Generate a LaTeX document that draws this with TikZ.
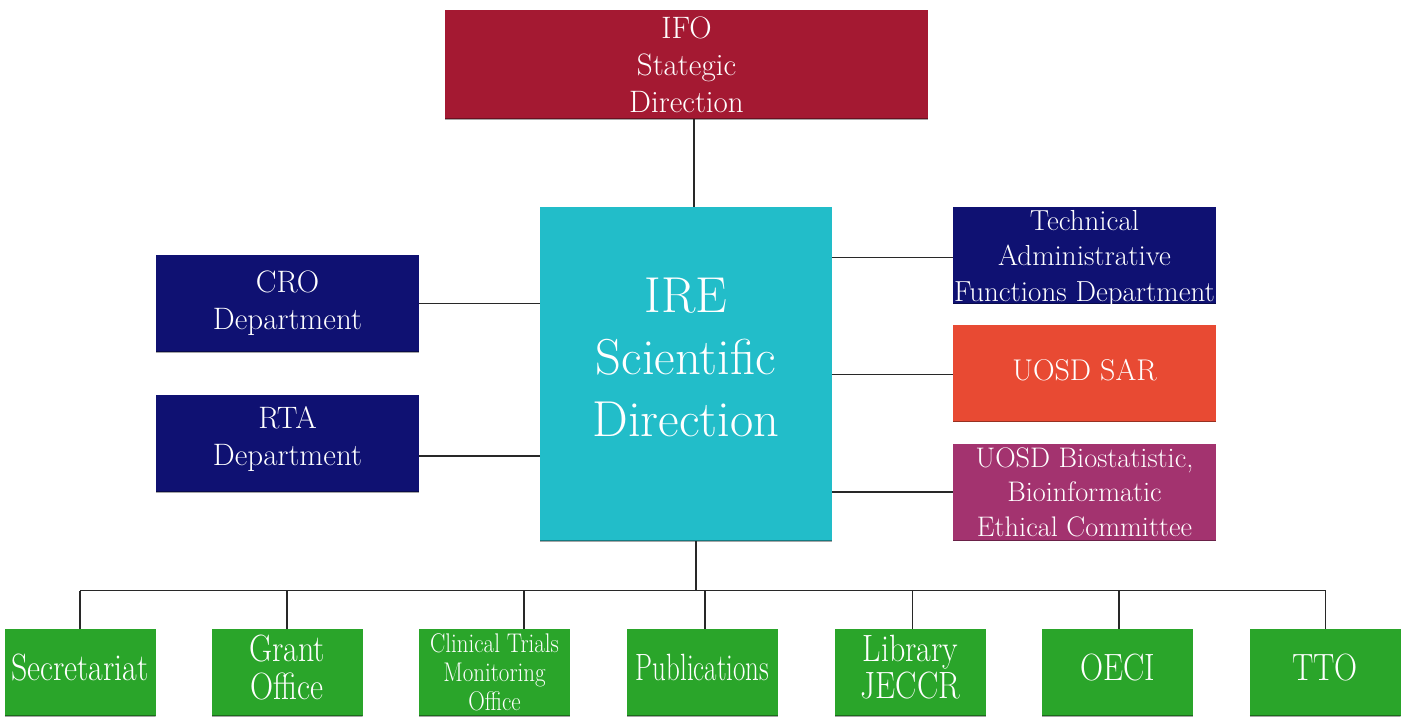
\documentclass[tikz,border=0pt]{standalone}
\usepackage{graphicx}
\definecolor{ifored}{RGB}{164,25,50}
\definecolor{irecyan}{RGB}{34,189,201}
\definecolor{navyb}{RGB}{15,17,114}
\definecolor{sarred}{RGB}{232,74,51}
\definecolor{biomag}{RGB}{163,51,111}
\definecolor{greenb}{RGB}{42,165,42}
\definecolor{linec}{RGB}{40,40,40}
\newcommand{\cond}[2][0.78]{\scalebox{#1}[1]{\begin{tabular}{@{}c@{}}#2\end{tabular}}}
\tikzset{
  boxbase/.style={rectangle, inner sep=0pt, text=white, align=center, draw=none,
    path picture={\draw[black, opacity=0.35, line width=2] (path picture bounding box.south west) -- (path picture bounding box.south east);}},
  txt/.style={inner sep=0pt, text=white, align=center},
  topbox/.style={boxbase, fill=ifored, minimum width=483, minimum height=109, font=\fontsize{31}{37}\selectfont},
  irebox/.style={boxbase, fill=irecyan, minimum width=292, minimum height=334},
  sidebox/.style={boxbase, minimum width=263, minimum height=97, font=\fontsize{31}{37}\selectfont},
  gbox/.style={boxbase, fill=greenb, minimum width=151, minimum height=87, font=\fontsize{38}{37}\selectfont},
  conn/.style={draw=linec, line width=1.3},
}
\begin{document}
\begin{tikzpicture}[x=1pt,y=-1pt]
\useasboundingbox (0,0) rectangle (1403,718);
% main boxes
\node[topbox] (ifo) at (686.5,64.5) {IFO\\Stategic\\Direction};
\node[irebox] (ire) at (686,374) {};
\node[txt, font=\fontsize{50.5}{62}\selectfont] (iret) at (686,357) {IRE\\Scientific\\Direction};
\node[sidebox, fill=navyb] (cro) at (287.5,303.5) {CRO\\Department};
\node[sidebox, fill=navyb] (rta) at (287.5,443.5) {};
\node[txt, font=\fontsize{31}{37}\selectfont] (rtat) at (287.5,439) {RTA\\Department};
\node[sidebox, fill=navyb] (tech) at (1084.5,255) {};
\node[txt, font=\fontsize{29}{35.5}\selectfont] (techt) at (1084.5,258.5) {Technical\\Administrative\\Functions Department};
\node[sidebox, fill=sarred] (sar) at (1084.5,373) {};
\node[txt, font=\fontsize{30}{36}\selectfont] (sart) at (1084.5,370) {UOSD SAR};
\node[sidebox, fill=biomag, font=\fontsize{28.3}{34.5}\selectfont] (bio) at (1084.5,492) {UOSD Biostatistic,\\Bioinformatic\\Ethical Committee};
% bottom boxes
\node[gbox] (sec) at (80,672.5) {\cond[0.84]{Secretariat}};
\node[gbox] (grant) at (287,672.5) {\cond[0.84]{Grant\\Office}};
\node[gbox] (ctm) at (494.5,672.5) {};
\node[txt, font=\fontsize{27}{29}\selectfont] (ctmt) at (494.5,676) {\cond[0.85]{Clinical Trials\\Monitoring\\Office}};
\node[gbox] (pub) at (702.5,672.5) {\cond[0.71]{Publications}};
\node[gbox] (lib) at (910.5,672.5) {\cond[0.84]{Library\\JECCR}};
\node[gbox] (oeci) at (1117.5,672.5) {\cond[0.84]{OECI}};
\node[gbox] (tto) at (1325,672.5) {\cond[0.84]{TTO}};
% helper coordinates
\coordinate (xtop) at (694,0);
\coordinate (xbot) at (696,0);
\coordinate (yrta) at (0,456);
\coordinate (ytech) at (0,257.5);
\coordinate (ysar) at (0,374.5);
\coordinate (ybio) at (0,492);
\coordinate (bus) at (0,590.5);
\coordinate (xsec) at (80,0);
\coordinate (xgrant) at (287,0);
\coordinate (xctm) at (524,0);
\coordinate (xpub) at (705,0);
\coordinate (xlib) at (912.5,0);
\coordinate (xoeci) at (1119,0);
\coordinate (xtto) at (1325.5,0);
% connectors
\draw[conn] (xtop |- ifo.south) -- (xtop |- ire.north);
\draw[conn] (cro.east) -- (cro.east -| ire.west);
\draw[conn] (rta.east |- yrta) -- (ire.west |- yrta);
\draw[conn] (ire.east |- ytech) -- (tech.west |- ytech);
\draw[conn] (ire.east |- ysar) -- (sar.west |- ysar);
\draw[conn] (ire.east |- ybio) -- (bio.west |- ybio);
\draw[conn] (xbot |- ire.south) -- (xbot |- bus);
\draw[conn] (xsec |- bus) -- (xtto |- bus);
\draw[conn] (xsec |- bus) -- (xsec |- sec.north);
\draw[conn] (xgrant |- bus) -- (xgrant |- grant.north);
\draw[conn] (xctm |- bus) -- (xctm |- ctm.north);
\draw[conn] (xpub |- bus) -- (xpub |- pub.north);
\draw[conn] (xlib |- bus) -- (xlib |- lib.north);
\draw[conn] (xoeci |- bus) -- (xoeci |- oeci.north);
\draw[conn] (xtto |- bus) -- (xtto |- tto.north);
\end{tikzpicture}
\end{document}
